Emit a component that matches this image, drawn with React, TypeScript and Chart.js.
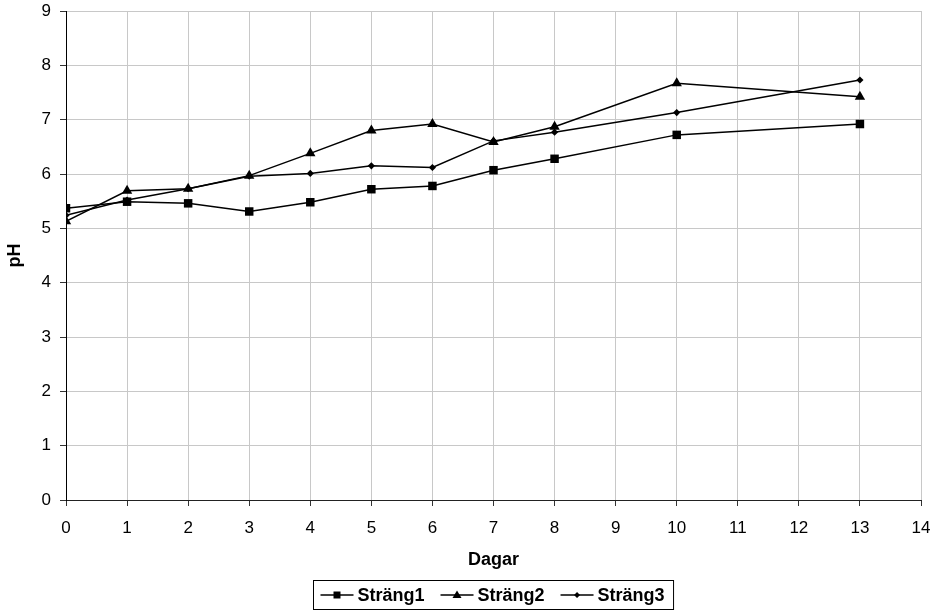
import { useEffect, useRef } from "react";
import { Chart, registerables } from "chart.js";

Chart.register(...registerables);

// Sampling days and measured pH per strand
const days = [0, 1, 2, 3, 4, 5, 6, 7, 8, 10, 13];
const strang1 = [5.37, 5.49, 5.46, 5.31, 5.48, 5.72, 5.78, 6.07, 6.28, 6.72, 6.92];
const strang2 = [5.13, 5.69, 5.73, 5.97, 6.38, 6.8, 6.92, 6.59, 6.87, 7.67, 7.42];
const strang3 = [5.24, 5.52, 5.73, 5.96, 6.01, 6.15, 6.12, 6.61, 6.77, 7.13, 7.73];

const seriesLabels = ["Sträng1", "Sträng2", "Sträng3"];
const pointStyles = ["rect", "triangle", "rectRot"] as const;
const pointRadii = [6, 6, 3.6];
const xTitle = "Dagar";
const yTitle = "pH";
const xMin = 0;
const xMax = 14;
const yMin = 0;
const yMax = 9;

const FONT = "'Liberation Sans', Arial, Helvetica, sans-serif";

function toPoints(values: number[]) {
  return values.map((v, i) => ({ x: days[i], y: v }));
}

// Small marker glyphs for the legend samples
function drawMarker(ctx: CanvasRenderingContext2D, style: string, x: number, y: number) {
  ctx.beginPath();
  if (style === "rect") {
    ctx.rect(x - 3.5, y - 3.5, 7, 7);
  } else if (style === "triangle") {
    ctx.moveTo(x, y - 4.5);
    ctx.lineTo(x + 4.5, y + 3);
    ctx.lineTo(x - 4.5, y + 3);
    ctx.closePath();
  } else {
    ctx.moveTo(x, y - 3);
    ctx.lineTo(x + 3, y);
    ctx.lineTo(x, y + 3);
    ctx.lineTo(x - 3, y);
    ctx.closePath();
  }
  ctx.fill();
}

const titlesAndLegend = {
  id: "titlesAndLegend",
  afterDraw(chart: Chart) {
    const ctx = chart.ctx;
    const a = chart.chartArea;
    const cx = (a.left + a.right) / 2;
    ctx.save();
    ctx.fillStyle = "#000";
    ctx.strokeStyle = "#000";
    ctx.font = `bold 18px ${FONT}`;
    ctx.textAlign = "center";
    ctx.textBaseline = "middle";
    ctx.fillText(xTitle, cx, a.bottom + 60);

    ctx.save();
    ctx.translate(15, (a.top + a.bottom) / 2);
    ctx.rotate(-Math.PI / 2);
    ctx.fillText(yTitle, 0, 0);
    ctx.restore();

    // Legend box below the axis title
    const sample = 33;
    const gap = 4;
    const itemGap = 16;
    const padL = 7;
    const padR = 9;
    const widths = seriesLabels.map((t) => ctx.measureText(t).width);
    const total =
      padL + padR + widths.reduce((s, w) => s + w, 0) + seriesLabels.length * (sample + gap) + itemGap * (seriesLabels.length - 1);
    const boxLeft = Math.round(cx - total / 2) + 0.5;
    const boxTop = a.bottom + 80.5;
    const boxH = 29;
    ctx.lineWidth = 1;
    ctx.strokeRect(boxLeft, boxTop, total, boxH);
    const my = boxTop + boxH / 2;
    let x = boxLeft + padL;
    ctx.textAlign = "left";
    seriesLabels.forEach((label, i) => {
      ctx.lineWidth = 1.5;
      ctx.beginPath();
      ctx.moveTo(x, my);
      ctx.lineTo(x + sample, my);
      ctx.stroke();
      drawMarker(ctx, pointStyles[i], x + sample / 2, my);
      x += sample + gap;
      ctx.fillText(label, x, my + 1);
      x += widths[i] + itemGap;
    });
    ctx.restore();
  },
};

export default function App() {
  const canvasRef = useRef<HTMLCanvasElement | null>(null);

  useEffect(() => {
    const canvas = canvasRef.current;
    if (!canvas) return;
    const series = [strang1, strang2, strang3];
    const chart = new Chart(canvas, {
      type: "line",
      data: {
        datasets: series.map((values, i) => ({
          label: seriesLabels[i],
          data: toPoints(values),
          borderColor: "#000",
          backgroundColor: "#000",
          borderWidth: 1.5,
          pointStyle: pointStyles[i],
          pointRadius: pointRadii[i],
          pointBackgroundColor: "#000",
          pointBorderColor: "#000",
          pointBorderWidth: 0,
          tension: 0,
          fill: false,
        })),
      },
      options: {
        responsive: false,
        animation: false,
        layout: { padding: { top: 11, right: 13, left: 0, bottom: 0 } },
        plugins: {
          legend: { display: false },
          tooltip: { enabled: false },
        },
        scales: {
          x: {
            type: "linear",
            min: xMin,
            max: xMax,
            afterFit(scale: any) {
              scale.height = 111;
              scale.paddingLeft = 0;
              scale.paddingRight = 0;
            },
            ticks: {
              stepSize: 1,
              color: "#000",
              padding: 12,
              font: { family: FONT, size: 17 },
            },
            grid: {
              color: "#c8c8c8",
              lineWidth: 1,
              tickLength: 6,
              tickColor: "#333",
              drawTicks: true,
            },
            border: { color: "#222", width: 1 },
          },
          y: {
            min: yMin,
            max: yMax,
            afterFit(scale: any) {
              scale.width = 66;
              scale.paddingTop = 0;
              scale.paddingBottom = 0;
            },
            ticks: {
              stepSize: 1,
              color: "#000",
              padding: 9,
              font: { family: FONT, size: 17 },
            },
            grid: {
              color: "#c8c8c8",
              lineWidth: 1,
              tickLength: 6,
              tickColor: "#333",
              drawTicks: true,
            },
            border: { color: "#000", width: 1 },
          },
        },
      },
      plugins: [titlesAndLegend],
    });
    return () => chart.destroy();
  }, []);

  return (
    <div style={{ position: "absolute", left: 0, top: 0, width: 934, height: 611, background: "#fff" }}>
      <canvas ref={canvasRef} width={934} height={611} style={{ width: 934, height: 611, display: "block" }} />
    </div>
  );
}
